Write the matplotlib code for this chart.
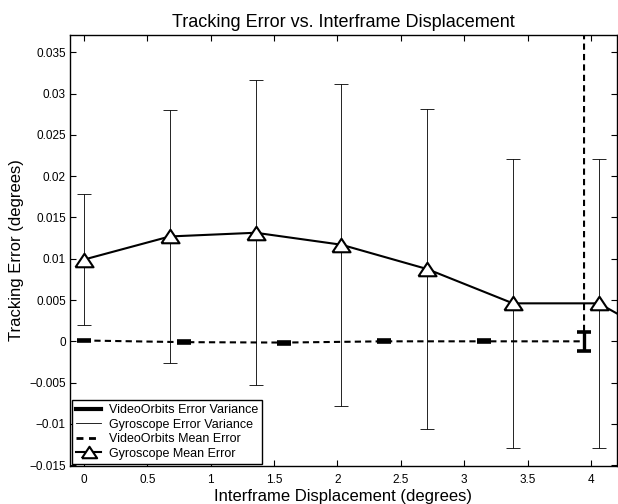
import matplotlib
matplotlib.use("Agg")
import matplotlib.pyplot as plt
from matplotlib.lines import Line2D
from matplotlib.ticker import FuncFormatter
import numpy as np

plt.rcParams['font.family'] = ['Liberation Sans', 'DejaVu Sans']

# gyroscope: mean error and half-width of the error bars
gyro_x = [0, 0.677, 1.354, 2.031, 2.708, 3.384, 4.061, 4.738]
gyro_mean = [0.0099, 0.0127, 0.01315, 0.0117, 0.00875, 0.0046, 0.0046, -0.0012]
gyro_err = [0.0079, 0.0153, 0.01845, 0.0195, 0.01935, 0.0175, 0.0175, 0.0175]

# videoorbits: mean error and error variance (last point fails, far off the chart)
vo_x = [0, 0.789, 1.578, 2.367, 3.156, 3.945, 3.945]
vo_mean = [0.0001, -0.0001, -0.00015, 0.0, 0.0, 0.0, 1.0]
vo_err = [0.00012, 0.00012, 0.00012, 0.00012, 0.00012, 0.00115, 0.0]

xticks = [0, 0.5, 1, 1.5, 2, 2.5, 3, 3.5, 4]
yticks = [-0.015, -0.01, -0.005, 0, 0.005, 0.01, 0.015, 0.02, 0.025, 0.03, 0.035]

fig = plt.figure(figsize=(6.18, 5.04), dpi=100)
ax = fig.add_axes([70/618, 38/504, 547/618, 431/504])

tri = [(-1, -0.75), (1, -0.75), (0, 0.75), (-1, -0.75)]

# gyroscope error bars (thin)
ax.errorbar(gyro_x, gyro_mean, yerr=gyro_err, fmt='none', ecolor='k',
            elinewidth=0.6, capsize=5, capthick=0.6, zorder=2)
# videoorbits error bars (thick)
ax.errorbar(vo_x[:-1], vo_mean[:-1], yerr=vo_err[:-1], fmt='none', ecolor='k',
            elinewidth=2.4, capsize=5, capthick=2.6, zorder=3)
# videoorbits mean (dashed)
ax.plot(vo_x, vo_mean, color='k', lw=1.5, dashes=(3, 2), zorder=3)
# gyroscope mean
ax.plot(gyro_x, gyro_mean, color='k', lw=1.5, marker=tri, ms=13,
        mfc='white', mec='k', mew=1.5, zorder=4)

ax.set_xlim(-0.11, 4.205)
ax.set_ylim(-0.0151, 0.0371)
ax.set_xticks(xticks)
ax.set_yticks(yticks)
fmt = FuncFormatter(lambda v, p: ('%g' % v).replace('-', '\u2212'))
ax.xaxis.set_major_formatter(fmt)
ax.yaxis.set_major_formatter(fmt)
ax.tick_params(direction='in', length=4, width=0.8, top=True, right=True,
               labelsize=8.5)
ax.tick_params(axis='y', pad=3)
ax.tick_params(axis='x', pad=6)
for s in ax.spines.values():
    s.set_linewidth(1.0)

ax.set_title('Tracking Error vs. Interframe Displacement', fontsize=13, pad=6)
ax.set_xlabel('Interframe Displacement (degrees)', fontsize=12, labelpad=2)
ax.set_ylabel('Tracking Error (degrees)', fontsize=12, labelpad=4)

handles = [
    Line2D([], [], color='k', lw=3),
    Line2D([], [], color='k', lw=0.6),
    Line2D([], [], color='k', lw=2, dashes=(2.5, 2)),
    Line2D([], [], color='k', lw=1.5, marker=tri, ms=11, mfc='white', mew=1.5),
]
labels = ['VideoOrbits Error Variance', 'Gyroscope Error Variance',
          'VideoOrbits Mean Error', 'Gyroscope Mean Error']
leg = ax.legend(handles, labels, loc='lower left', fontsize=9,
                handlelength=2.0, handletextpad=0.6, labelspacing=0.2,
                borderpad=0.35, borderaxespad=0.15, fancybox=False,
                framealpha=1, edgecolor='k')
leg.get_frame().set_linewidth(1.0)

fig.savefig('out.png', dpi=100)
